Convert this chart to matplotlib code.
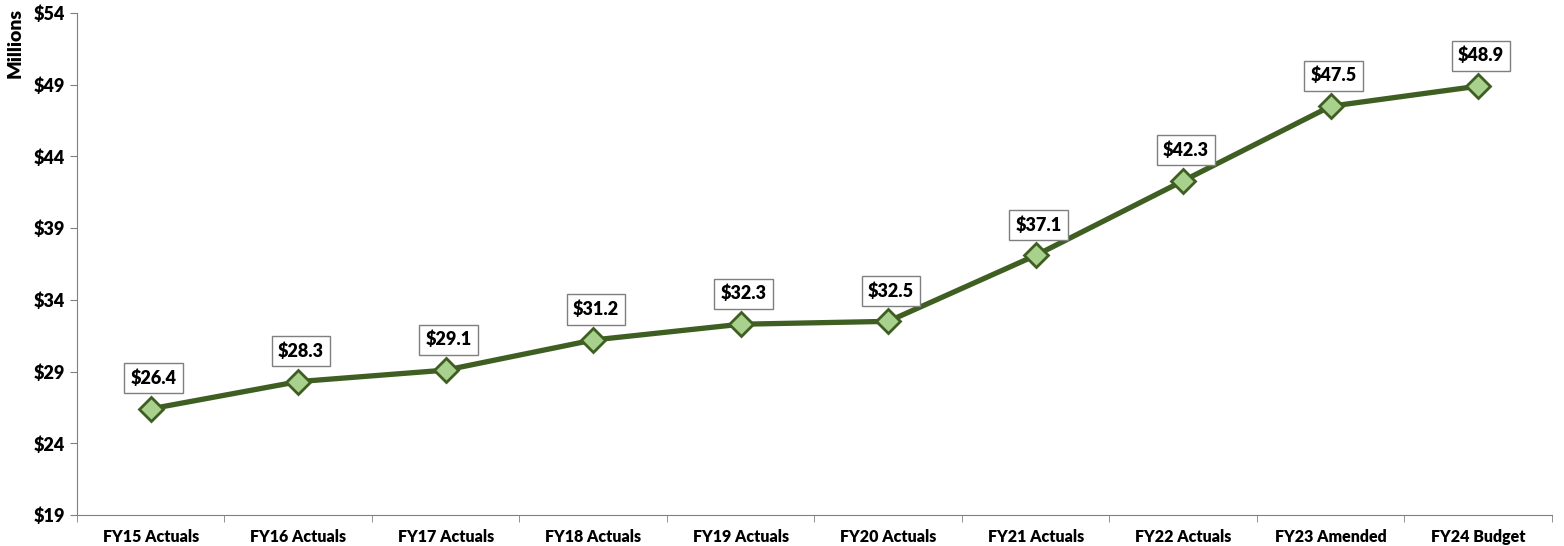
import matplotlib.pyplot as plt
from matplotlib.ticker import FuncFormatter

years = ['FY15 Actuals', 'FY16 Actuals', 'FY17 Actuals', 'FY18 Actuals', 'FY19 Actuals',
         'FY20 Actuals', 'FY21 Actuals', 'FY22 Actuals', 'FY23 Amended', 'FY24 Budget']
values = [26.4, 28.3, 29.1, 31.2, 32.3, 32.5, 37.1, 42.3, 47.5, 48.9]
yticks = [19, 24, 29, 34, 39, 44, 49, 54]

plt.rcParams['font.family'] = ['Lato', 'DejaVu Sans']

fig = plt.figure(figsize=(15.64, 5.46), dpi=100)
ax = fig.add_axes([0.0492, 0.0568, 0.9431, 0.9194])

x = list(range(len(years)))
ax.plot(x, values, color='#3e5e22', linewidth=3.8, marker='D', markersize=12,
        markerfacecolor='#a9d18e', markeredgecolor='#3e5e22', markeredgewidth=2, zorder=3)

for xi, v in zip(x, values):
    ax.annotate(f'${v:.1f}', (xi, v), xytext=(2, 22), textcoords='offset points',
                ha='center', va='center', fontsize=13, fontweight='heavy', color='black',
                bbox=dict(boxstyle='square,pad=0.35', fc='white', ec='#7f7f7f', lw=1))

ax.set_xlim(-0.5, len(years) - 0.5)
ax.set_ylim(19, 54)
ax.set_yticks(yticks)
ax.yaxis.set_major_formatter(FuncFormatter(lambda v, p: f'${v:.0f}'))
ax.set_xticks(x)
ax.set_xticklabels(years)
ax.set_xticks([i + 0.5 for i in range(-1, len(years))], minor=True)
ax.tick_params(axis='x', which='major', length=0, pad=10, labelsize=11.5)
ax.tick_params(axis='x', which='minor', length=5, color='#7f7f7f')
ax.tick_params(axis='y', length=5, color='#7f7f7f', labelsize=13)
for lab in ax.get_xticklabels() + ax.get_yticklabels():
    lab.set_fontweight('heavy')

for s in ['top', 'right']:
    ax.spines[s].set_visible(False)
for s in ['left', 'bottom']:
    ax.spines[s].set_color('#7f7f7f')

fig.text(0.004, 0.985, 'Millions', rotation=90, va='top', ha='left',
         fontsize=14, fontweight='heavy')

fig.savefig('out.png', dpi=100)
